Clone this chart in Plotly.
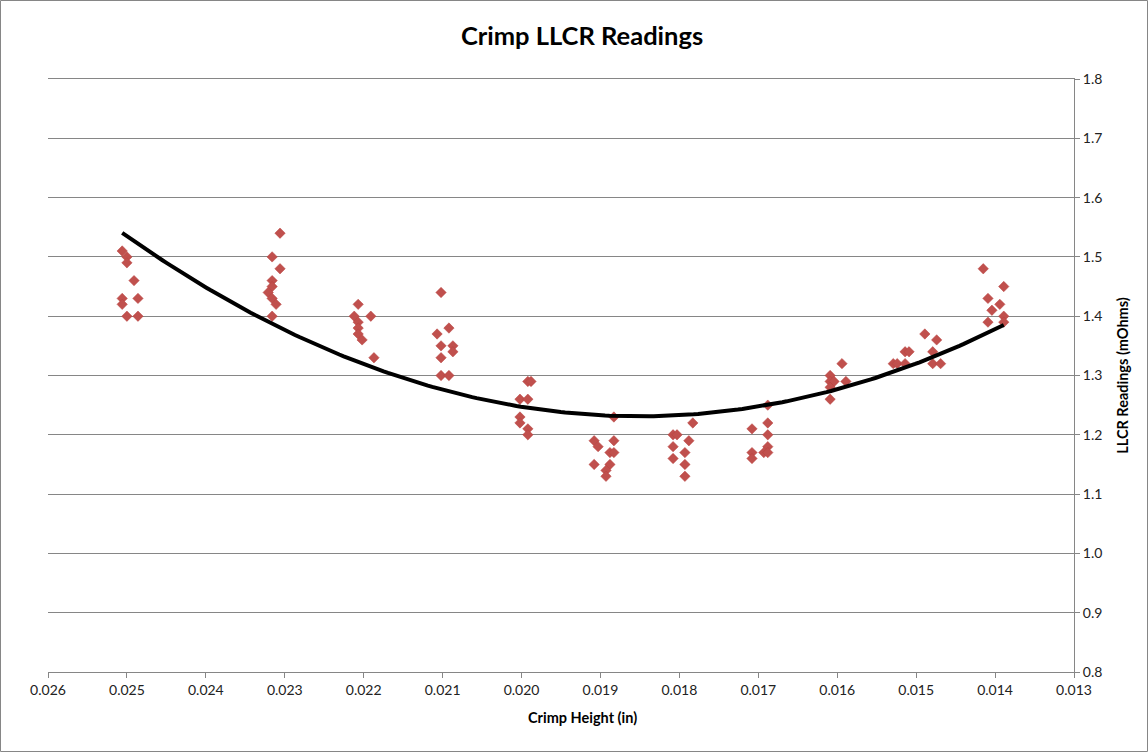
import numpy as np
import plotly.graph_objects as go

# Crimp height (in) and LLCR readings (mOhms)
crimp_height = [
    0.02506, 0.02500, 0.02500, 0.02491, 0.02506, 0.02506, 0.02486, 0.02500, 0.02486,
    0.02306, 0.02316, 0.02306, 0.02316, 0.02316, 0.02321, 0.02316, 0.02311, 0.02316,
    0.02207, 0.02212, 0.02191, 0.02207, 0.02207, 0.02207, 0.02202, 0.02187,
    0.02102, 0.02107, 0.02092, 0.02102, 0.02087, 0.02087, 0.02102, 0.02102, 0.02092,
    0.01992, 0.01988, 0.02002, 0.01992, 0.02002, 0.02002, 0.01992, 0.01992,
    0.01883, 0.01908, 0.01903, 0.01883, 0.01888, 0.01883, 0.01908, 0.01888, 0.01893, 0.01893,
    0.01808, 0.01803, 0.01783, 0.01788, 0.01808, 0.01793, 0.01808, 0.01793, 0.01793,
    0.01688, 0.01708, 0.01688, 0.01688, 0.01688, 0.01708, 0.01708, 0.01693, 0.01688,
    0.01609, 0.01594, 0.01609, 0.01604, 0.01589, 0.01609, 0.01609,
    0.01529, 0.01524, 0.01514, 0.01509, 0.01514, 0.01489, 0.01474, 0.01479, 0.01479, 0.01469,
    0.01415, 0.01409, 0.01404, 0.01409, 0.01394, 0.01389, 0.01389, 0.01389,
]
llcr = [
    1.51, 1.50, 1.49, 1.46, 1.43, 1.42, 1.43, 1.40, 1.40,
    1.54, 1.50, 1.48, 1.46, 1.45, 1.44, 1.43, 1.42, 1.40,
    1.42, 1.40, 1.40, 1.39, 1.38, 1.37, 1.36, 1.33,
    1.44, 1.37, 1.38, 1.35, 1.35, 1.34, 1.33, 1.30, 1.30,
    1.29, 1.29, 1.26, 1.26, 1.23, 1.22, 1.21, 1.20,
    1.23, 1.19, 1.18, 1.19, 1.17, 1.17, 1.15, 1.15, 1.14, 1.13,
    1.20, 1.20, 1.22, 1.19, 1.18, 1.17, 1.16, 1.15, 1.13,
    1.25, 1.21, 1.22, 1.20, 1.18, 1.17, 1.16, 1.17, 1.17,
    1.30, 1.32, 1.29, 1.29, 1.29, 1.28, 1.26,
    1.32, 1.32, 1.34, 1.34, 1.32, 1.37, 1.36, 1.34, 1.32, 1.32,
    1.48, 1.43, 1.41, 1.39, 1.42, 1.45, 1.40, 1.39,
]

x_ticks = [0.026, 0.025, 0.024, 0.023, 0.022, 0.021, 0.020, 0.019, 0.018,
           0.017, 0.016, 0.015, 0.014, 0.013]
y_ticks = [0.8, 0.9, 1.0, 1.1, 1.2, 1.3, 1.4, 1.5, 1.6, 1.7, 1.8]

# Second-order polynomial trendline (least squares, as in Excel)
coef = np.polyfit(crimp_height, llcr, 2)
xt = np.linspace(min(crimp_height), max(crimp_height), 200)
yt = np.polyval(coef, xt)

FONT = "Lato, 'Open Sans', sans-serif"

fig = go.Figure()
fig.add_trace(go.Scatter(
    x=crimp_height, y=llcr, mode="markers",
    marker=dict(symbol="diamond", size=8, color="#C0504D",
                line=dict(color="#B9413E", width=0.5)),
    showlegend=False, hoverinfo="x+y",
))
fig.add_trace(go.Scatter(
    x=xt, y=yt, mode="lines",
    line=dict(color="black", width=4),
    showlegend=False, hoverinfo="skip",
))

fig.update_layout(
    width=1148, height=752,
    margin=dict(l=48, r=74, t=79, b=80),
    paper_bgcolor="white", plot_bgcolor="white",
    font=dict(family=FONT, size=14, color="#222"),
    title=dict(text="<b>Crimp LLCR Readings</b>", x=0.507, xanchor="center",
               y=0.952, yanchor="middle", font=dict(size=25.5, color="black")),
    xaxis=dict(
        range=[0.026, 0.013], tickvals=x_ticks, tickformat=".3f",
        showgrid=False, zeroline=False,
        showline=True, linecolor="#868686", linewidth=1, mirror=True,
        ticks="outside", ticklen=5, tickcolor="#868686",
        tickfont=dict(size=14, color="#222"),
    ),
    yaxis=dict(
        range=[0.8, 1.8], tickvals=y_ticks, tickformat=".1f", side="right",
        showgrid=True, gridcolor="#868686", gridwidth=1, zeroline=False,
        showline=True, linecolor="#868686", linewidth=1,
        ticks="outside", ticklen=5, tickcolor="#868686",
        tickfont=dict(size=14, color="#222"),
        title=dict(text="<b>LLCR Readings (mOhms)</b>", font=dict(size=14.5, color="black"),
                   standoff=16),
    ),
    annotations=[dict(
        text="<b>Crimp Height (in)</b>", xref="paper", yref="paper",
        x=(582 - 48) / 1026, y=-(717 - 672) / 593, xanchor="center", yanchor="middle",
        showarrow=False, font=dict(size=14.5, color="black"),
    )],
    shapes=[dict(
        type="rect", xref="paper", yref="paper",
        x0=-47.5 / 1026, x1=(1147.5 - 48) / 1026,
        y0=-(751.5 - 672) / 593, y1=(672 - 0.5) / 593,
        line=dict(color="#868686", width=1), layer="below",
    )],
)

fig.write_html("out.html", post_script="document.body.style.margin='0';",
               config={"displayModeBar": False})
